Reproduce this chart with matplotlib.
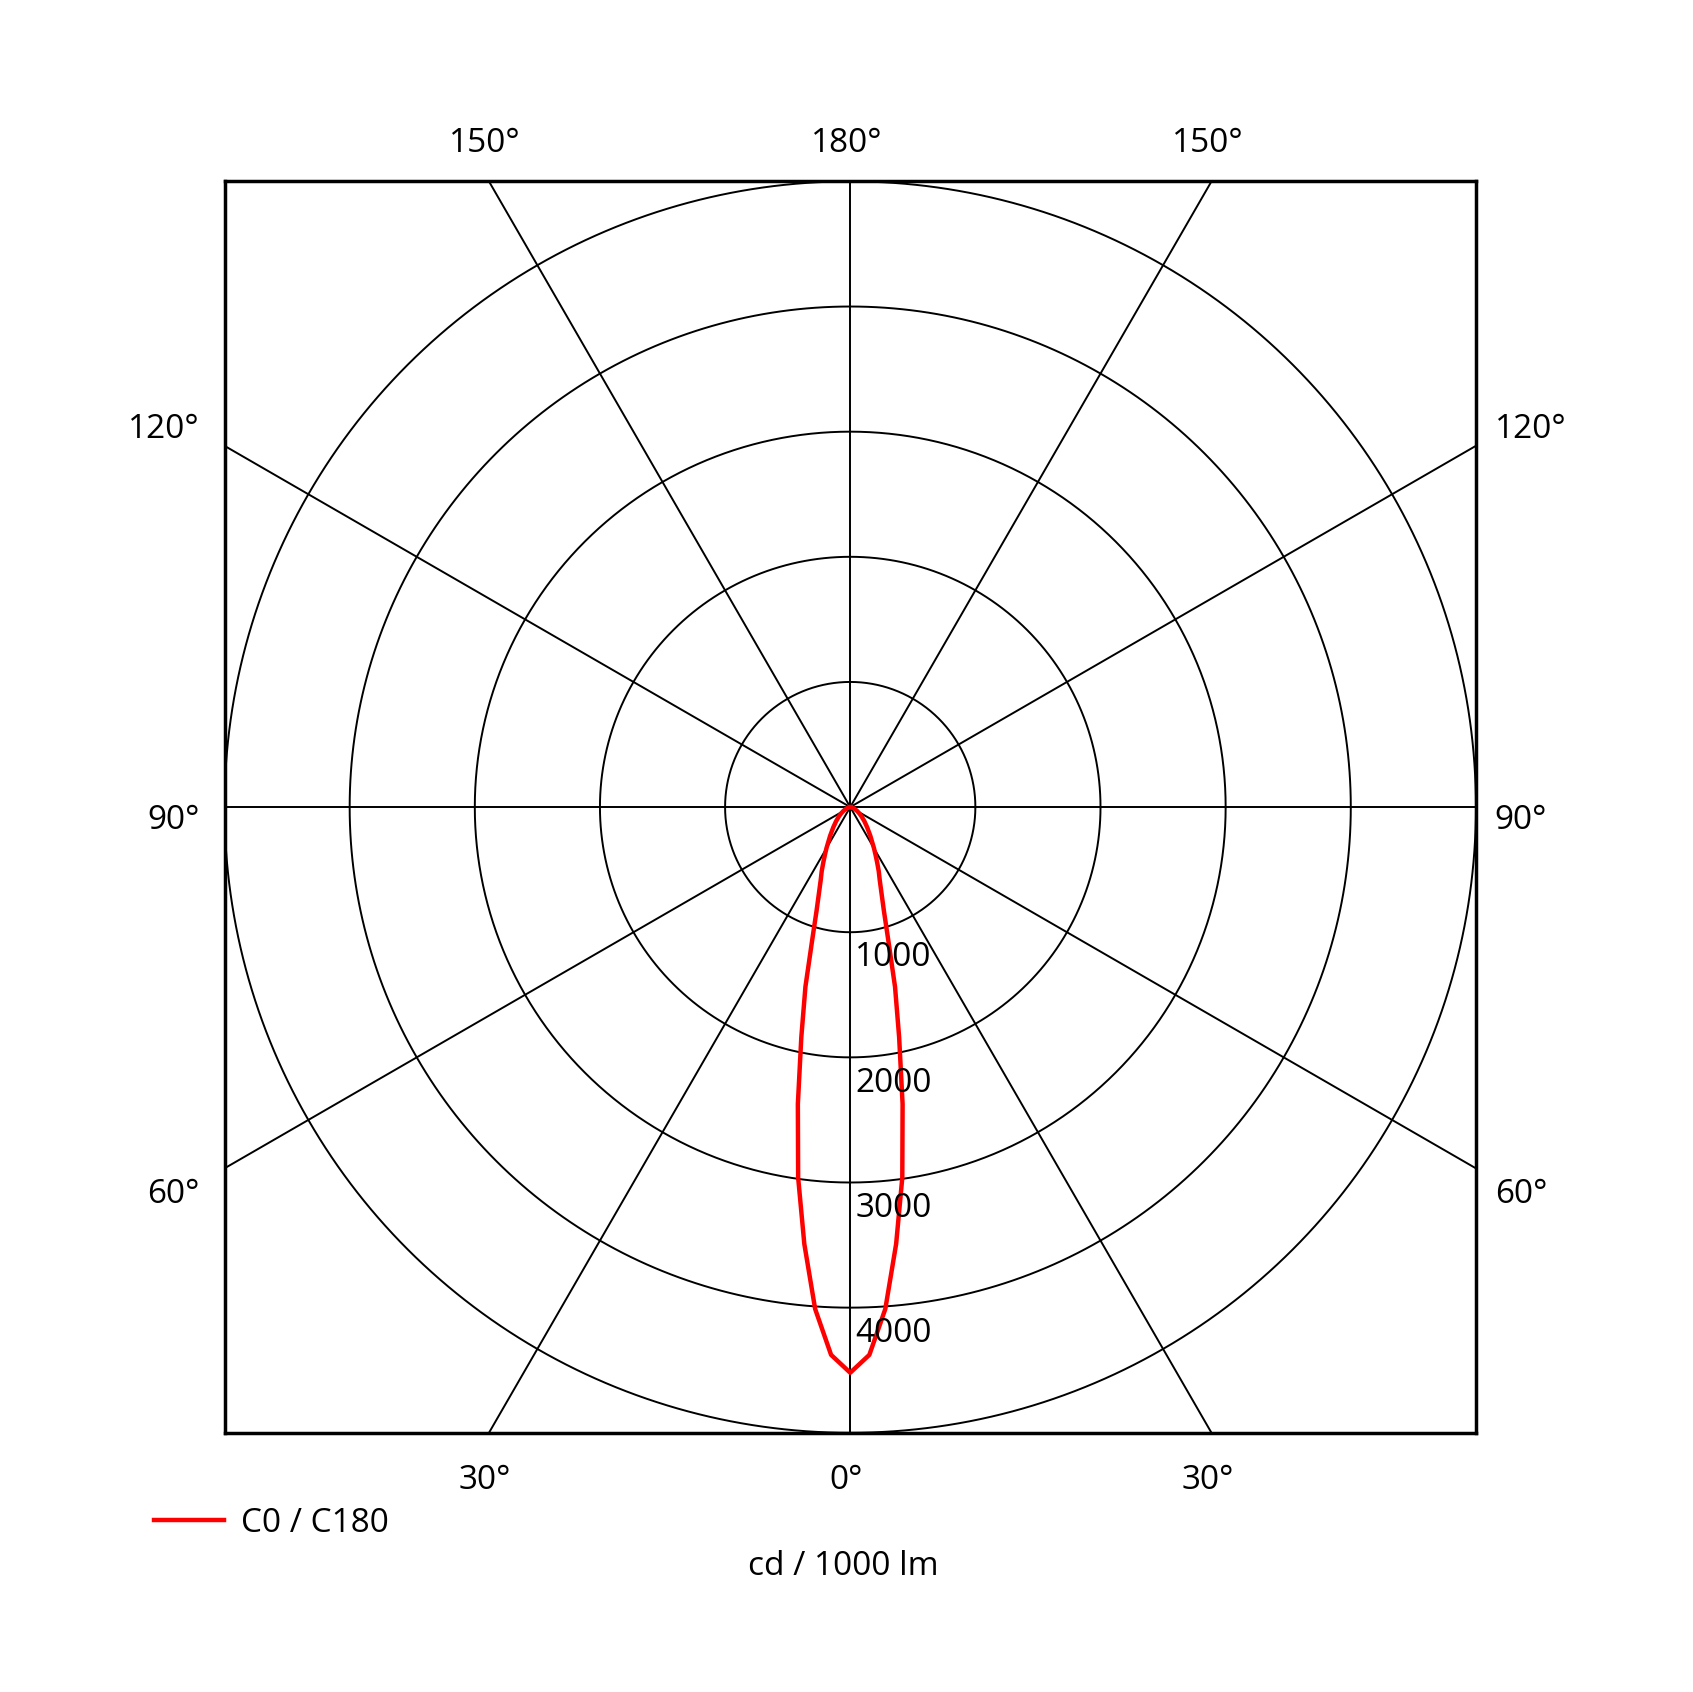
import numpy as np
import matplotlib
matplotlib.use("Agg")
from matplotlib import pyplot as plt

plt.rcParams['font.family'] = ['Open Sans', 'DejaVu Sans']

# luminous intensity distribution, C0 / C180 (symmetric), cd / 1000 lm
gamma = [0, 2, 4, 6, 8, 10, 12, 14, 16, 18, 20, 22, 24, 26, 28, 30,
         35, 40, 45, 50, 55, 60, 65, 70, 75, 80, 85, 90]
intensity = [4520, 4380, 4020, 3510, 2990, 2410, 1880, 1480, 1100, 870, 730, 630, 560, 490, 430, 380,
             280, 210, 160, 120, 90, 65, 45, 30, 20, 10, 5, 0]
rings = [1000, 2000, 3000, 4000, 5000]
ring_labels = ["1000", "2000", "3000", "4000"]
spokes = [0, 30, 60, 90, 120, 150]
top_labels = ["150°", "180°", "150°"]
bottom_labels = ["30°", "0°", "30°"]
side_labels = ["120°", "90°", "60°"]

rmax = 5000
dy = -25  # small downward nudge for the text

fig = plt.figure(figsize=(16.93, 16.92), dpi=100)
ax = fig.add_axes([0.1326, 0.1532, 0.7392, 0.7396])
ax.set_xlim(-rmax, rmax)
ax.set_ylim(-rmax, rmax)
ax.set_aspect('equal')
ax.set_xticks([])
ax.set_yticks([])
for s in ax.spines.values():
    s.set_linewidth(2.5)

# grid circles
t = np.linspace(0, 2 * np.pi, 721)
for r in rings:
    ax.plot(r * np.cos(t), r * np.sin(t), color='black', lw=1.4, zorder=1)

# radial lines, long enough to be clipped by the frame
for a in spokes:
    rad = np.deg2rad(a)
    L = 2 * rmax
    ax.plot([-L * np.sin(rad), L * np.sin(rad)], [-L * np.cos(rad), L * np.cos(rad)],
            color='black', lw=1.4, zorder=1)

# curve: gamma measured from nadir (downwards)
g = np.deg2rad(np.array(gamma))
I = np.array(intensity)
x = np.concatenate([-(I * np.sin(g))[::-1], (I * np.sin(g))[1:]])
y = np.concatenate([-(I * np.cos(g))[::-1], -(I * np.cos(g))[1:]])
ax.plot(x, y, color='#ff0000', lw=3.2, zorder=3, label='C0 / C180')

# ring labels
for r, lab in zip(rings, ring_labels):
    ax.text(40, -r - 180 + dy, lab, fontsize=24, ha='left', va='center', zorder=4)

# angle labels around the frame
xs = rmax * np.tan(np.deg2rad(30))
for xx, lab in zip([-xs, 0, xs], top_labels):
    ax.text(xx - 30, 5330 + dy, lab, fontsize=24, ha='center', va='center')
for xx, lab in zip([-xs, 0, xs], bottom_labels):
    ax.text(xx - 30, -5360 + dy, lab, fontsize=24, ha='center', va='center')
for yy, lab in zip([3040, -86, -3070], side_labels):
    ax.text(-5200, yy + dy, lab, fontsize=24, ha='right', va='center')
    ax.text(5150, yy + dy, lab, fontsize=24, ha='left', va='center')

leg = ax.legend(loc='center left', bbox_to_anchor=(0.091, 0.0997), bbox_transform=fig.transFigure,
                frameon=False, fontsize=24, handlelength=2.1, handletextpad=0.5,
                borderpad=0, borderaxespad=0)

fig.text(0.498, 0.0742, 'cd / 1000 lm', fontsize=24, ha='center', va='center')

fig.savefig('out.png', dpi=100, facecolor='white')
